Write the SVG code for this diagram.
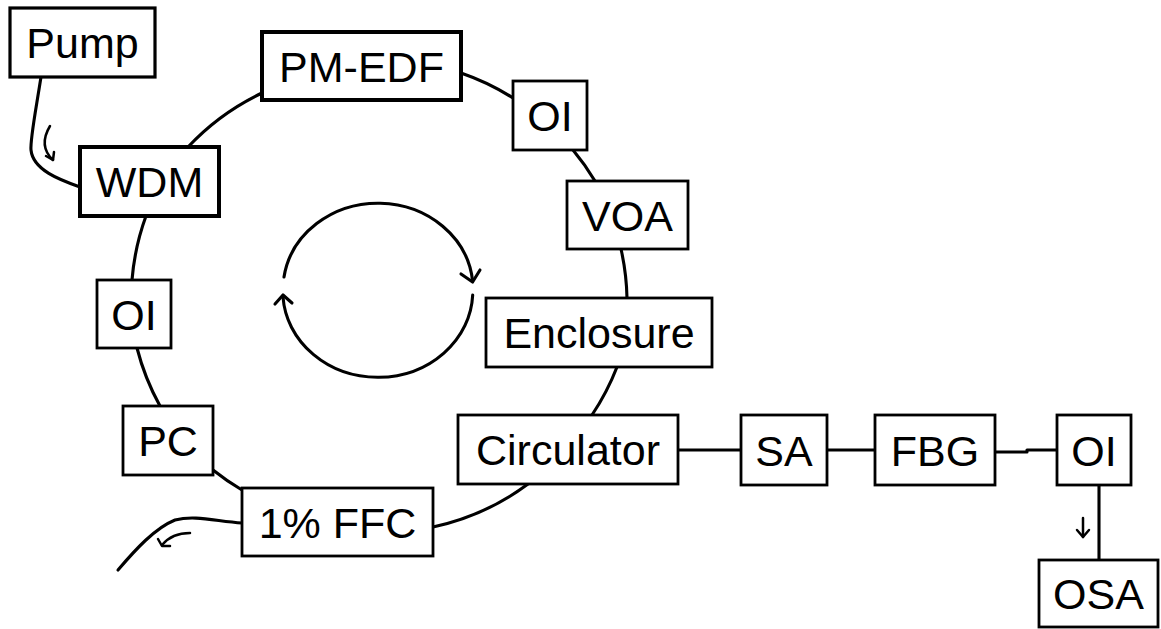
<svg xmlns="http://www.w3.org/2000/svg" width="1161" height="629" viewBox="0 0 1161 629">
<style>
.b{fill:#fff;stroke:#000;stroke-width:2.8}
.c{fill:none;stroke:#000;stroke-width:3.1;stroke-linecap:round;stroke-linejoin:round}
.a{stroke-width:2.5}
text{font-family:"Liberation Sans",Arial,sans-serif;font-size:43px;text-anchor:middle;fill:#000}
</style>
<rect width="1161" height="629" fill="#fff"/>
<g id="connectors">
<path class="c" d="M41 77 C35 115 30 140 31 150 C33 170 60 180 80 187"/>
<path class="c" d="M188 147 A245 245 0 0 1 262 93"/>
<path class="c" d="M461 73 A245 245 0 0 1 513 98"/>
<path class="c" d="M573 150 A245 245 0 0 1 595 181"/>
<path class="c" d="M621 249 A245 245 0 0 1 627 298"/>
<path class="c" d="M617 367 A245 245 0 0 1 592 415"/>
<path class="c" d="M528 484 A245 245 0 0 1 433 527"/>
<path class="c" d="M242 490 A245 245 0 0 1 213 470"/>
<path class="c" d="M160 406 A245 245 0 0 1 137 348"/>
<path class="c" d="M132 280 A245 245 0 0 1 146 216"/>
<path class="c" d="M242 523 C215 521 195 515 175 520 C155 528 135 550 118 570"/>
<path class="c" d="M678 450 H741"/>
<path class="c" d="M827 450 H875"/>
<path class="c" d="M995 452 H1027 V450 H1057"/>
<path class="c" d="M1099 485 V560"/>
<path class="c" d="M284 277 A95 86 0 0 1 472.6 281"/>
<path class="c" d="M461 274 L472.6 282 L480 270"/>
<path class="c" d="M472.7 295 A95 86 0 0 1 283 297"/>
<path class="c" d="M275 304 L283 295 L292 303"/>
<path class="c a" d="M50 126 Q38 146 53 160"/>
<path class="c a" d="M46 156 L53 160 L54 152"/>
<path class="c a" d="M190 533 Q172 533 162 545"/>
<path class="c a" d="M158 539 L162 546 L170 546"/>
<path class="c a" d="M1083 518 V537"/>
<path class="c a" d="M1077 530 L1083 537 L1089 530"/>
</g>
<g id="pump"><rect class="b" x="10" y="8" width="145" height="69" style="stroke-width:3.2"/><text x="82.5" y="58">Pump</text></g>
<g id="wdm"><rect class="b" x="80" y="147" width="139" height="69" style="stroke-width:4"/><text x="149.5" y="197">WDM</text></g>
<g id="pmedf"><rect class="b" x="262" y="32" width="199" height="68" style="stroke-width:4"/><text x="361.5" y="81.5">PM-EDF</text></g>
<g id="oi1"><rect class="b" x="513" y="81" width="74" height="69"/><text x="550" y="131">OI</text></g>
<g id="voa"><rect class="b" x="567" y="181" width="121" height="68"/><text x="627.5" y="230.5">VOA</text></g>
<g id="enclosure"><rect class="b" x="486" y="298" width="226" height="69"/><text x="599" y="348">Enclosure</text></g>
<g id="circulator"><rect class="b" x="458" y="415" width="220" height="69"/><text x="568" y="465">Circulator</text></g>
<g id="sa"><rect class="b" x="741" y="415" width="86" height="70"/><text x="784" y="465.5">SA</text></g>
<g id="fbg"><rect class="b" x="875" y="415" width="120" height="70"/><text x="935" y="465.5">FBG</text></g>
<g id="oi3"><rect class="b" x="1057" y="415" width="74" height="70"/><text x="1094" y="465.5">OI</text></g>
<g id="osa"><rect class="b" x="1039" y="560" width="119" height="67"/><text x="1098.5" y="609">OSA</text></g>
<g id="oi2"><rect class="b" x="97" y="280" width="74" height="68"/><text x="134" y="329.5">OI</text></g>
<g id="pc"><rect class="b" x="123" y="406" width="90" height="69"/><text x="168" y="456">PC</text></g>
<g id="ffc"><rect class="b" x="242" y="488" width="191" height="68"/><text x="337.5" y="537.5">1% FFC</text></g>
</svg>
